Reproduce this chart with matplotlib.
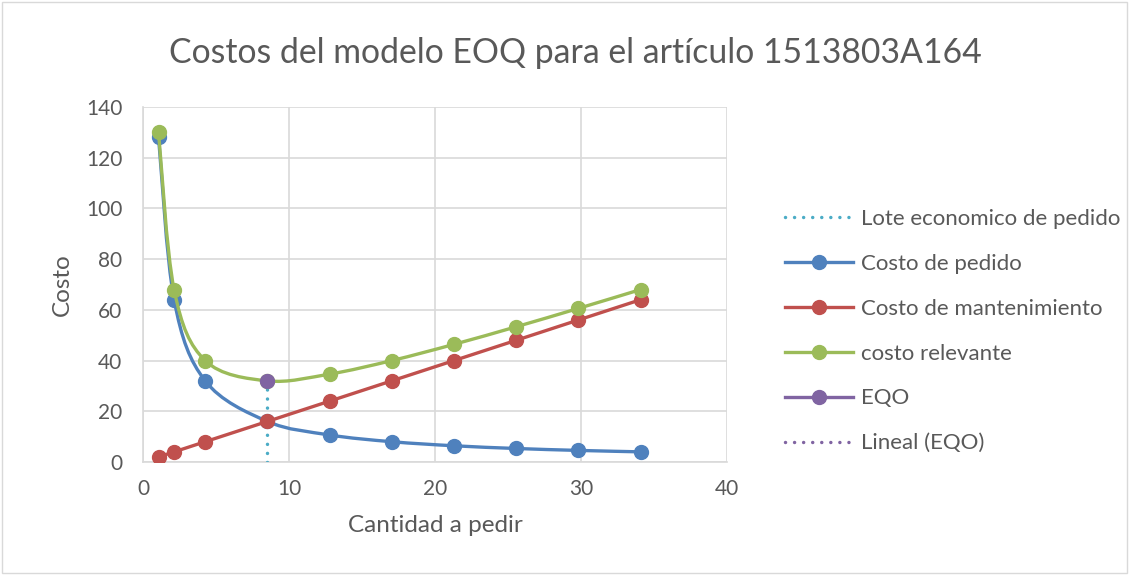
import matplotlib
matplotlib.use("Agg")
import matplotlib.pyplot as plt
from matplotlib.path import Path
from matplotlib.patches import PathPatch, Rectangle
from matplotlib.lines import Line2D
import numpy as np

# Data
cantidad = [1.065, 2.13, 4.26, 8.52, 12.78, 17.04, 21.3, 25.56, 29.82, 34.08]
costo_pedido = [128, 64, 32, 16, 10.67, 8, 6.4, 5.33, 4.57, 4]
costo_mantenimiento = [2, 4, 8, 16, 24, 32, 40, 48, 56, 64]
costo_relevante = [130, 68, 40, 32, 34.67, 40, 46.4, 53.33, 60.57, 68]
eoq_x = [8.52]
eoq_y = [32]
lote_x = [8.52, 8.52]
lote_y = [0, 32]

title = "Costos del modelo EOQ para el artículo 1513803A164"
xlabel = "Cantidad a pedir"
ylabel = "Costo"
labels = ["Lote economico de pedido", "Costo de pedido", "Costo de mantenimiento",
          "costo relevante", "EQO", "Lineal (EQO)"]

C_BLUE = "#4f81bd"
C_RED = "#c0504d"
C_GREEN = "#9bbb59"
C_PURPLE = "#8064a2"
C_CYAN = "#4bacc6"
TXT = "#595959"

plt.rcParams['font.family'] = ['Lato', 'DejaVu Sans']

fig = plt.figure(figsize=(11.29, 5.75), dpi=100)
ax = fig.add_axes([143/1129, 1-462/575, (727-143)/1129, (462-107)/575])


def smooth_path(xs, ys):
    pts = np.column_stack([xs, ys]).astype(float)
    n = len(pts)
    verts = [pts[0]]
    codes = [Path.MOVETO]
    for i in range(n - 1):
        p0 = pts[i - 1] if i > 0 else pts[i]
        p1 = pts[i]
        p2 = pts[i + 1]
        p3 = pts[i + 2] if i + 2 < n else pts[i + 1]
        c1 = p1 + (p2 - p0) / 6.0
        c2 = p2 - (p3 - p1) / 6.0
        verts += [c1, c2, p2]
        codes += [Path.CURVE4] * 3
    return Path(verts, codes)


lw = 2.4
ms = 10
DOT = (0, (0.01, 2.6))
ax.plot(lote_x, lote_y, color=C_CYAN, lw=2.5, linestyle=DOT,
        dash_capstyle='round', zorder=3)
for xs, ys, c, z in [(cantidad, costo_pedido, C_BLUE, 4),
                     (cantidad, costo_mantenimiento, C_RED, 5),
                     (cantidad, costo_relevante, C_GREEN, 6)]:
    ax.add_patch(PathPatch(smooth_path(xs, ys), facecolor='none', edgecolor=c,
                           lw=lw, zorder=z, capstyle='round'))
    ax.plot(xs, ys, linestyle='none', marker='o', ms=ms, color=c, zorder=z)
ax.plot(eoq_x, eoq_y, linestyle='none', marker='o', ms=ms, color=C_PURPLE, zorder=7)

ax.set_xlim(0, 40)
ax.set_ylim(0, 140)
ax.set_xticks(range(0, 41, 10))
ax.set_yticks(range(0, 141, 20))
ax.grid(True, color="#d9d9d9", lw=1.2)
ax.set_axisbelow(True)
for s in ['top', 'right']:
    ax.spines[s].set_visible(False)
for s in ['left', 'bottom']:
    ax.spines[s].set_color("#d9d9d9")
    ax.spines[s].set_linewidth(1.2)
ax.tick_params(length=0, labelsize=15, colors=TXT)
ax.tick_params(axis='y', pad=15)
ax.tick_params(axis='x', pad=12)
ax.set_xlabel(xlabel, fontsize=17.5, color=TXT, labelpad=12)
ax.set_ylabel(ylabel, fontsize=17.5, color=TXT, labelpad=9)
fig.text(575/1129, 1-53/575, title, ha='center', va='center', fontsize=24.3, color=TXT)

handles = [
    Line2D([], [], color=C_CYAN, lw=2.5, linestyle=DOT, dash_capstyle='round'),
    Line2D([], [], color=C_BLUE, lw=lw, marker='o', ms=ms),
    Line2D([], [], color=C_RED, lw=lw, marker='o', ms=ms),
    Line2D([], [], color=C_GREEN, lw=lw, marker='o', ms=ms),
    Line2D([], [], color=C_PURPLE, lw=lw, marker='o', ms=ms),
    Line2D([], [], color=C_PURPLE, lw=2.5, linestyle=DOT, dash_capstyle='round'),
]
leg = fig.legend(handles, labels, loc='upper left', bbox_to_anchor=(776/1129, 1-200/575),
                 frameon=False, fontsize=16, handlelength=3.05, labelspacing=1.12,
                 handletextpad=0.38, borderaxespad=0)
for t in leg.get_texts():
    t.set_color(TXT)

fig.add_artist(Rectangle((0.002, 0.003), 0.996, 0.994, transform=fig.transFigure,
                         facecolor='none', edgecolor='#d9d9d9', lw=1))

fig.savefig("out.png", dpi=100)
